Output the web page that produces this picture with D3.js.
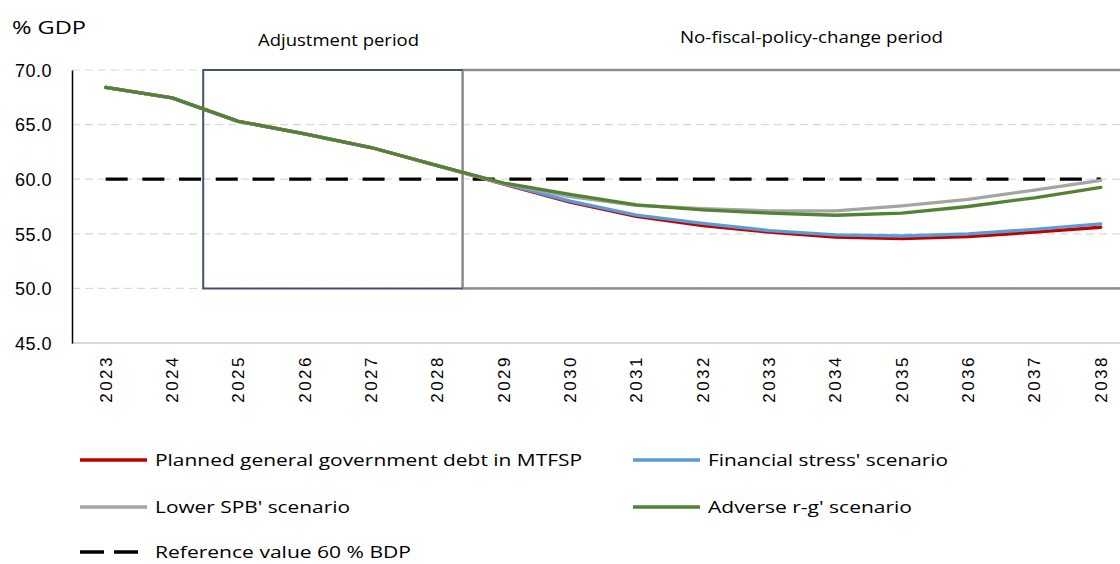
<!DOCTYPE html>
<html>
<head>
<meta charset="utf-8">
<script src="https://cdn.jsdelivr.net/npm/d3@7"></script>
<style>
  html, body { margin: 0; padding: 0; background: #fff; }
  svg { display: block; }
  text { font-family: "Open Sans", "Liberation Sans", sans-serif; fill: #000; }
</style>
</head>
<body>
<svg id="chart" width="1120" height="564"></svg>
<script>
// ---- data ----
const years = ["2023","2024","2025","2026","2027","2028","2029","2030","2031","2032","2033","2034","2035","2036","2037","2038"];
const plannedDebt   = [68.4, 67.45, 65.3, 64.15, 62.9, 61.25, 59.55, 57.9, 56.6, 55.75, 55.15, 54.7, 54.55, 54.75, 55.15, 55.6];
const financialStress = [68.4, 67.45, 65.3, 64.15, 62.9, 61.25, 59.6, 58.0, 56.7, 55.95, 55.3, 54.9, 54.8, 55.0, 55.4, 55.9];
const lowerSPB      = [68.4, 67.45, 65.3, 64.15, 62.9, 61.25, 59.6, 58.4, 57.6, 57.3, 57.1, 57.1, 57.55, 58.15, 59.0, 59.9];
const adverseRG     = [68.4, 67.45, 65.3, 64.15, 62.9, 61.25, 59.65, 58.6, 57.65, 57.2, 56.9, 56.7, 56.9, 57.5, 58.3, 59.25];
const referenceValue = 60;
const yTicks = [45, 50, 55, 60, 65, 70];
const periodLabels = ["Adjustment period", "No-fiscal-policy-change period"];
const adjustmentStart = "2025", adjustmentEnd = "2028";
const boxLow = 50, boxHigh = 70;

const seriesNames = ["Planned general government debt in MTFSP", "Financial stress' scenario", "Lower SPB' scenario", "Adverse r-g' scenario"];
const seriesData = [plannedDebt, financialStress, lowerSPB, adverseRG];
const seriesColors = ["#c00000", "#5b9bd5", "#a5a5a5", "#548235"];
const refLabel = "Reference value 60 % BDP";

// ---- layout ----
const svg = d3.select("#chart");
const x = d3.scaleBand().domain(years).range([72.5, 1134]).paddingInner(0).paddingOuter(0);
const xc = d => x(d) + x.bandwidth() / 2;
const y = d3.scaleLinear().domain([45, 70]).range([343, 70]);

// gridlines
svg.append("g").selectAll("line").data(yTicks.filter(t => t > 45)).join("line")
  .attr("x1", 72).attr("x2", 1120)
  .attr("y1", d => y(d)).attr("y2", d => y(d))
  .attr("stroke", "#d9d9d9").attr("stroke-width", 1.2).attr("stroke-dasharray", "8,5");

// x-axis baseline
svg.append("line").attr("x1", 72).attr("x2", 1120).attr("y1", y(45)).attr("y2", y(45))
  .attr("stroke", "#d9d9d9").attr("stroke-width", 2);

// boxes
const step = x.step();
const boxL = xc(adjustmentStart) - 0.53 * step;
const boxR = xc(adjustmentEnd) + 0.38 * step;
// gray no-policy-change box
svg.append("rect").attr("x", boxR).attr("y", y(boxHigh)).attr("width", 1134 - boxR).attr("height", y(boxLow) - y(boxHigh))
  .attr("fill", "none").attr("stroke", "#8c8c8c").attr("stroke-width", 2.5);
// adjustment box
svg.append("path")
  .attr("d", `M${boxR},${y(boxHigh)} H${boxL} V${y(boxLow)} H${boxR}`)
  .attr("fill", "none").attr("stroke", "#44546a").attr("stroke-width", 2);

// y axis
const yAxis = d3.axisLeft(y).tickValues(yTicks).tickSize(0).tickPadding(20).tickFormat(d3.format(".1f"));
const gy = svg.append("g").attr("transform", "translate(72,0)").call(yAxis);
gy.select(".domain").attr("stroke", "#000").attr("stroke-width", 1.5);
gy.selectAll("text").style("font-size", "18px").style("letter-spacing", "0.5px")
  .style("font-family", "'Liberation Sans Narrow','Liberation Sans',sans-serif").attr("dy", "0.35em");

// x axis labels
const xAxis = d3.axisBottom(x).tickSize(0).tickPadding(0);
const gx = svg.append("g").attr("transform", `translate(0,${y(45)})`).call(xAxis);
gx.select(".domain").remove();
gx.selectAll("text")
  .attr("transform", "rotate(-90)")
  .attr("x", -12).attr("y", 0).attr("dy", "0.35em")
  .style("text-anchor", "end")
  .style("font-size", "17px").style("letter-spacing", "2.5px")
  .style("font-family", "'Liberation Sans',sans-serif");

// reference line
svg.append("line")
  .attr("x1", xc(years[0])).attr("x2", xc(years[years.length - 1]))
  .attr("y1", y(referenceValue)).attr("y2", y(referenceValue))
  .attr("stroke", "#000").attr("stroke-width", 3.3).attr("stroke-dasharray", "22,14.7");

// series lines
const line = d3.line().x((d, i) => xc(years[i])).y(d => y(d)).curve(d3.curveLinear);
seriesData.forEach((s, k) => {
  svg.append("path").datum(s).attr("d", line)
    .attr("fill", "none").attr("stroke", seriesColors[k]).attr("stroke-width", 3.3)
    .attr("stroke-linejoin", "round").attr("stroke-linecap", "round");
});

// titles
svg.append("text").attr("x", 12).attr("y", 34).text("% GDP")
  .style("font-size", "19px").attr("textLength", 74).attr("lengthAdjust", "spacingAndGlyphs");
svg.append("text").attr("x", 258).attr("y", 46).text(periodLabels[0])
  .style("font-size", "16px").attr("textLength", 161).attr("lengthAdjust", "spacingAndGlyphs");
svg.append("text").attr("x", 680).attr("y", 43).text(periodLabels[1])
  .style("font-size", "16px").attr("textLength", 263).attr("lengthAdjust", "spacingAndGlyphs");

// legend
const legendItems = [
  {name: seriesNames[0], color: seriesColors[0], x: 80, y: 460, w: 427},
  {name: seriesNames[1], color: seriesColors[1], x: 633, y: 460, w: 240},
  {name: seriesNames[2], color: seriesColors[2], x: 80, y: 507, w: 195},
  {name: seriesNames[3], color: seriesColors[3], x: 633, y: 507, w: 204},
  {name: refLabel, color: "#000", x: 80, y: 552, w: 256, dashed: true}
];
const lg = svg.append("g").selectAll("g").data(legendItems).join("g");
lg.append("line")
  .attr("x1", d => d.x).attr("x2", d => d.x + 67)
  .attr("y1", d => d.y).attr("y2", d => d.y)
  .attr("stroke", d => d.color).attr("stroke-width", 3.3)
  .attr("stroke-dasharray", d => d.dashed ? "24,10" : null);
lg.append("text")
  .attr("x", d => d.x + 75).attr("y", d => d.y).attr("dy", "0.35em")
  .text(d => d.name)
  .style("font-size", "17px")
  .attr("textLength", d => d.w).attr("lengthAdjust", "spacingAndGlyphs");
</script>
</body>
</html>
